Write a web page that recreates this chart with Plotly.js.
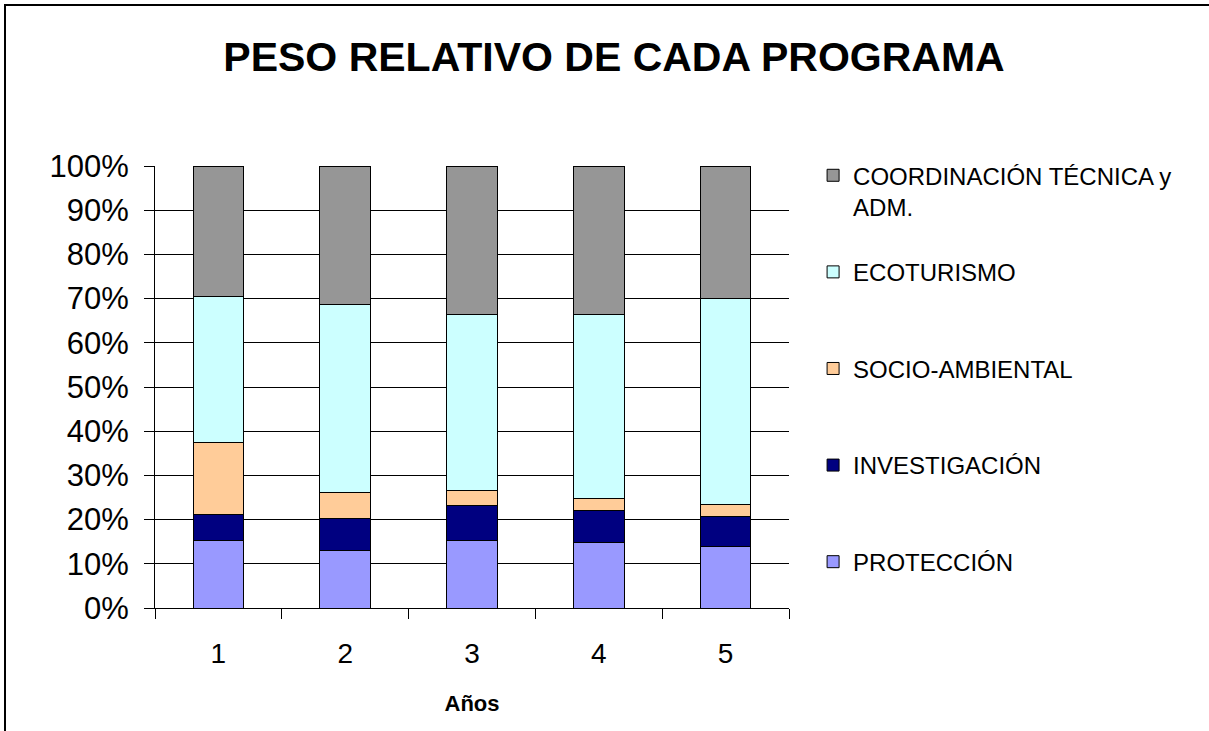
<!DOCTYPE html>
<html>
<head>
<meta charset="utf-8">
<script src="https://cdn.plot.ly/plotly-3.0.1.min.js"></script>
<style>
  html, body { margin: 0; padding: 0; background: #fff; overflow: hidden; }
  #frame { position: absolute; left: 4px; top: 4px; width: 1230px; height: 760px; border: 2px solid #000; box-sizing: border-box; pointer-events: none; }
  #chart { position: absolute; left: 0; top: 0; width: 1209px; height: 731px; }
</style>
</head>
<body>
<div id="chart"></div>
<div id="frame"></div>
<script>
// Data (percent shares per year)
const years = ["1", "2", "3", "4", "5"];
const proteccion   = [15.2, 12.9, 15.2, 14.8, 14.0];
const investigacion = [6.0, 7.4, 8.1, 7.3, 6.7];
const socioAmbiental = [16.2, 5.9, 3.2, 2.6, 2.7];
const ecoturismo   = [33.0, 42.5, 39.9, 41.7, 46.6];
const coordinacion = [29.6, 31.3, 33.6, 33.6, 30.0];

const seriesNames = ["PROTECCIÓN", "INVESTIGACIÓN", "SOCIO-AMBIENTAL", "ECOTURISMO", "COORDINACIÓN TÉCNICA y<br>ADM."];
const seriesValues = [proteccion, investigacion, socioAmbiental, ecoturismo, coordinacion];
const seriesColors = ["#9999FF", "#000080", "#FFCC99", "#CCFFFF", "#969696"];

const font = "Arial, 'Liberation Sans', sans-serif";

// blank trailing lines only pad the legend spacing between entries
const pad = ["", "<br> <br> ", "<br> <br> ", "<br> <br> ", "<br> "];

const traces = seriesNames.map((name, i) => ({
  type: "bar",
  x: years,
  y: seriesValues[i],
  name: name + pad[i],
  marker: { color: seriesColors[i], line: { color: "#000", width: 1 } },
  hoverinfo: "x+y+name"
}));

const layout = {
  width: 1209,
  height: 731,
  paper_bgcolor: "#fff",
  plot_bgcolor: "#fff",
  margin: { l: 155, r: 420, t: 166, b: 123 },
  barmode: "stack",
  barnorm: "percent",
  bargap: 0.6,
  title: {
    text: "<b>PESO RELATIVO DE CADA PROGRAMA</b>",
    font: { family: font, size: 41, color: "#000" },
    x: 614 / 1209, xref: "container", xanchor: "center",
    y: 1 - 57 / 731, yref: "container", yanchor: "middle"
  },
  xaxis: {
    type: "category",
    tickson: "boundaries",
    ticks: "outside",
    ticklen: 10,
    tickcolor: "#000",
    tickwidth: 1,
    showline: true,
    linecolor: "#000",
    linewidth: 1,
    showgrid: false,
    tickfont: { family: font, size: 28, color: "#000" },
    ticklabelstandoff: 20,
    title: { text: "<b>Años</b>", font: { family: font, size: 22, color: "#000" }, standoff: 28 }
  },
  yaxis: {
    range: [0, 100],
    tickvals: [0, 10, 20, 30, 40, 50, 60, 70, 80, 90, 100],
    ticktext: ["0%", "10%", "20%", "30%", "40%", "50%", "60%", "70%", "80%", "90%", "100%"],
    ticks: "outside",
    ticklen: 10,
    tickcolor: "#000",
    tickwidth: 1,
    showline: true,
    linecolor: "#000",
    linewidth: 1,
    showgrid: true,
    gridcolor: "#000",
    gridwidth: 1,
    zeroline: false,
    tickfont: { family: font, size: 31, color: "#000" },
    ticklabelstandoff: 9
  },
  legend: {
    x: 1.038, xanchor: "left",
    y: 1.029, yanchor: "top",
    traceorder: "reversed",
    valign: "top",
    maxheight: 650,
    font: { family: font, size: 24, color: "#000" },
    bgcolor: "rgba(0,0,0,0)",
    borderwidth: 0
  },
  showlegend: true
};

Plotly.newPlot("chart", traces, layout, { displayModeBar: false, staticPlot: true });
</script>
</body>
</html>
